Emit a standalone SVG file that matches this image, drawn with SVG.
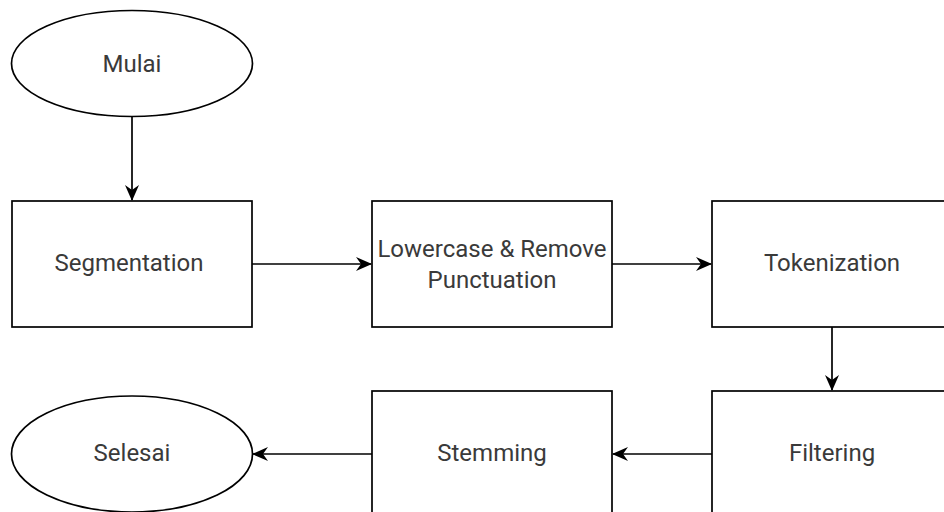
<svg xmlns="http://www.w3.org/2000/svg" width="944" height="512" viewBox="0 0 944 512">
<style>
.shape{fill:#ffffff;stroke:#000000;stroke-width:1.7}
.lbl{font-family:Roboto,"Liberation Sans",Arial,sans-serif;font-size:24px;fill:#3a3a3a;text-anchor:middle}
.edge{fill:none;stroke:#000000;stroke-width:1.7}
</style>
<defs>
<marker id="arr" markerUnits="userSpaceOnUse" markerWidth="16" markerHeight="14" viewBox="0 0 16 14" refX="15" refY="7" orient="auto">
<path d="M0,0 L16,7 L0,14 L5,7 Z" fill="#000000"/>
</marker>
</defs>
<rect width="944" height="512" fill="#ffffff"/>
<g id="connectors">
<path class="edge" d="M132,117 L132,200" marker-end="url(#arr)"/>
<path class="edge" d="M252,264 L371,264" marker-end="url(#arr)"/>
<path class="edge" d="M612,264 L711,264" marker-end="url(#arr)"/>
<path class="edge" d="M832,327 L832,390" marker-end="url(#arr)"/>
<path class="edge" d="M712,454 L613,454" marker-end="url(#arr)"/>
<path class="edge" d="M372,454 L253,454" marker-end="url(#arr)"/>
</g>
<g id="mulai">
<ellipse class="shape" cx="132" cy="63.5" rx="120.5" ry="53"/>
<text class="lbl" x="132" y="72">Mulai</text>
</g>
<g id="segmentation">
<rect class="shape" x="12" y="201" width="240" height="126"/>
<text class="lbl" x="129" y="271">Segmentation</text>
</g>
<g id="lowercase">
<rect class="shape" x="372" y="201" width="240" height="126"/>
<text class="lbl" x="492" y="257">Lowercase &amp; Remove</text>
<text class="lbl" x="492" y="288">Punctuation</text>
</g>
<g id="tokenization">
<rect class="shape" x="712" y="201" width="240" height="126"/>
<text class="lbl" x="832" y="271">Tokenization</text>
</g>
<g id="filtering">
<rect class="shape" x="712" y="391" width="240" height="126"/>
<text class="lbl" x="832" y="461">Filtering</text>
</g>
<g id="stemming">
<rect class="shape" x="372" y="391" width="240" height="126"/>
<text class="lbl" x="492" y="461">Stemming</text>
</g>
<g id="selesai">
<ellipse class="shape" cx="132" cy="454" rx="120.5" ry="58"/>
<text class="lbl" x="132" y="461">Selesai</text>
</g>
</svg>
